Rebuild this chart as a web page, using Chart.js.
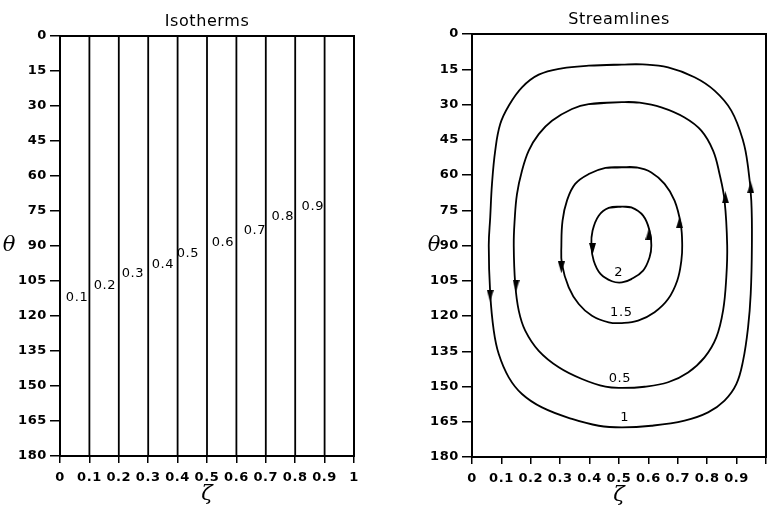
<!DOCTYPE html>
<html>
<head>
<meta charset="utf-8">
<script src="https://cdn.jsdelivr.net/npm/chart.js@4.4.1/dist/chart.umd.min.js"></script>
<style>
  body { margin: 0; background: #fff; width: 768px; height: 508px; overflow: hidden; position: relative; }
  #isoBox { position: absolute; left: 0; top: 0; width: 384px; height: 508px; }
  #strBox { position: absolute; left: 384px; top: 0; width: 410px; height: 508px; }
</style>
</head>
<body>
<div id="isoBox"><canvas id="isoChart"></canvas></div>
<div id="strBox"><canvas id="strChart"></canvas></div>
<script>
// axis ticks
const thetaTicks = [0, 15, 30, 45, 60, 75, 90, 105, 120, 135, 150, 165, 180];
const zetaTicks = [0, 0.1, 0.2, 0.3, 0.4, 0.5, 0.6, 0.7, 0.8, 0.9, 1];

// isotherms
const isoLevels = [0.1, 0.2, 0.3, 0.4, 0.5, 0.6, 0.7, 0.8, 0.9];
const isoLabelZeta = [0.058, 0.153, 0.248, 0.35, 0.435, 0.554, 0.663, 0.758, 0.86];
const isoLabelTheta = [112, 107, 102, 98, 93.4, 88.6, 83.5, 77.5, 73.3];

// streamlines, traced round each loop (top -> left -> bottom -> right)
const line1Zeta = [0.510, 0.397, 0.306, 0.227, 0.170, 0.125, 0.096, 0.079, 0.068, 0.062, 0.057, 0.062, 0.074, 0.091, 0.125, 0.170, 0.238, 0.340, 0.431, 0.510, 0.610, 0.723, 0.803, 0.859, 0.899, 0.922, 0.939, 0.948, 0.952, 0.950, 0.939, 0.922, 0.882, 0.825, 0.757, 0.667, 0.580];
const line1Theta = [13.0, 13.5, 14.6, 17.3, 22.7, 30.5, 38.3, 49.6, 63.8, 78, 90, 110.6, 126.2, 136.2, 146.1, 153.2, 158.9, 163.8, 166.7, 167.4, 166.7, 164.5, 161, 156, 149, 139, 124.8, 110.6, 90, 70.9, 56.7, 45.4, 32.6, 24.1, 18.4, 14.2, 12.9];

const line05Zeta = [0.510, 0.397, 0.340, 0.272, 0.227, 0.193, 0.170, 0.153, 0.145, 0.142, 0.147, 0.159, 0.181, 0.227, 0.295, 0.374, 0.454, 0.510, 0.587, 0.667, 0.735, 0.791, 0.831, 0.854, 0.865, 0.868, 0.859, 0.842, 0.820, 0.780, 0.723, 0.644, 0.570];
const line05Theta = [29.0, 29.8, 31.9, 36.9, 42.6, 49.6, 58.2, 68.1, 79.4, 90, 106.4, 117.7, 126.2, 134.8, 141.8, 146.8, 150.1, 150.6, 150.1, 148.2, 144, 137.6, 129.1, 117.7, 103.5, 90, 70.9, 59.6, 49.6, 41.1, 35.5, 31.2, 29.2];

const line15Zeta = [0.510, 0.454, 0.397, 0.351, 0.323, 0.308, 0.304, 0.306, 0.329, 0.363, 0.408, 0.465, 0.510, 0.565, 0.621, 0.667, 0.698, 0.712, 0.715, 0.710, 0.689, 0.655, 0.610, 0.560];
const line15Theta = [56.7, 57.0, 59.6, 63.8, 70.9, 79.4, 90, 97.9, 107.8, 114.9, 119.9, 122.7, 123, 122, 118.4, 112.8, 105, 96.5, 90, 80.9, 70.9, 63.8, 58.9, 56.8];

const line2Zeta = [0.510, 0.465, 0.431, 0.410, 0.406, 0.414, 0.437, 0.476, 0.510, 0.542, 0.582, 0.604, 0.610, 0.604, 0.582, 0.542];
const line2Theta = [73.5, 74.0, 77.3, 83.7, 90, 96.5, 102.1, 105.2, 105.7, 104.3, 100.7, 95, 90, 83.7, 77.3, 73.8];

const streamLabels = ['1', '0.5', '1.5', '2'];
const streamLabelZeta = [0.519, 0.503, 0.508, 0.499];
const streamLabelTheta = [163.1, 146.8, 118.4, 101.4];

// flow arrows: 0 = up the page, 180 = down
const arrowZeta = [0.062, 0.948, 0.150, 0.862, 0.304, 0.706, 0.410, 0.602];
const arrowTheta = [111.4, 65.2, 107.1, 69.5, 99.3, 80.1, 91.5, 85.1];
const arrowTurn = [180, 0, 180, 0, 180, 0, 180, 0];

const tickFont = { family: 'DejaVu Sans', size: 13, weight: 'bold' };

// elongated arrow head
const arrowHead = document.createElement('canvas');
arrowHead.width = 7;
arrowHead.height = 12;
const ah = arrowHead.getContext('2d');
ah.fillStyle = '#000';
ah.beginPath();
ah.moveTo(3.5, 0);
ah.lineTo(7, 12);
ah.lineTo(0, 12);
ah.closePath();
ah.fill();

// closed loop: wrap one point on each side so the joint stays smooth
function loop(zs, ts) {
  const pts = zs.map((z, i) => ({ x: z, y: ts[i] }));
  return [pts[pts.length - 1], ...pts, pts[0], pts[1]];
}

const paperPlugin = {
  id: 'paper',
  beforeDraw(chart) {
    chart.ctx.letterSpacing = '0.6px';
  },
  afterDatasetsDraw(chart, args, opts) {
    const { ctx, chartArea: a, scales: { x, y } } = chart;
    ctx.save();
    ctx.strokeStyle = '#000';
    ctx.lineWidth = 2;
    ctx.strokeRect(a.left, a.top, a.right - a.left, a.bottom - a.top);
    ctx.fillStyle = '#000';
    ctx.textAlign = 'center';
    ctx.textBaseline = 'middle';
    ctx.font = '13px "DejaVu Sans"';
    opts.labels.forEach((t, i) => {
      ctx.fillText(t, x.getPixelForValue(opts.lz[i]), y.getPixelForValue(opts.lt[i]));
    });
    ctx.letterSpacing = '0px';
    ctx.font = 'italic 21px "DejaVu Serif"';
    ctx.fillText('θ', a.left - opts.thetaGap, y.getPixelForValue(90));
    ctx.fillText('ζ', x.getPixelForValue(0.5), a.bottom + 39);
    ctx.restore();
  }
};

function axes(yWidth, xHeight, hideLast) {
  return {
    x: {
      type: 'linear', min: 0, max: 1,
      afterBuildTicks: s => { s.ticks = zetaTicks.map(v => ({ value: v })); },
      afterFit: s => { s.height = xHeight; },
      ticks: {
        autoSkip: false, maxRotation: 0, padding: 7, color: '#000', font: tickFont,
        callback: v => (hideLast && v === 1) ? '' : String(+v.toFixed(1))
      },
      grid: { drawOnChartArea: false, drawTicks: true, tickLength: 7, color: '#000', lineWidth: 1.5 },
      border: { color: '#000', width: 2 }
    },
    y: {
      type: 'linear', min: 0, max: 180, reverse: true,
      afterBuildTicks: s => { s.ticks = thetaTicks.map(v => ({ value: v })); },
      afterFit: s => { s.width = yWidth; },
      ticks: { autoSkip: false, padding: 3, color: '#000', font: tickFont },
      grid: { drawOnChartArea: false, drawTicks: true, tickLength: 10, color: '#000', lineWidth: 1.5 },
      border: { color: '#000', width: 2 }
    }
  };
}

const isoSets = isoLevels.map(l => ({
  data: [{ x: l, y: 0 }, { x: l, y: 180 }],
  showLine: true, borderColor: '#000', borderWidth: 1.8, pointRadius: 0
}));

new Chart(document.getElementById('isoChart'), {
  type: 'scatter',
  data: { datasets: isoSets },
  options: {
    animation: false,
    responsive: true,
    maintainAspectRatio: false,
    layout: { autoPadding: false, padding: { left: 0, right: 30, top: 0, bottom: 0 } },
    scales: axes(60, 52, false),
    plugins: {
      legend: { display: false },
      tooltip: { enabled: false },
      title: {
        display: true, fullSize: false, text: 'Isotherms', color: '#000',
        font: { family: 'DejaVu Sans', size: 16, weight: 'normal' },
        padding: { top: 12, bottom: 4.8 }
      },
      paper: {
        labels: isoLevels.map(String), lz: isoLabelZeta, lt: isoLabelTheta, thetaGap: 51
      }
    }
  },
  plugins: [paperPlugin]
});

const lineStyle = { showLine: true, borderColor: '#000', borderWidth: 1.8, pointRadius: 0, tension: 0.4 };

new Chart(document.getElementById('strChart'), {
  type: 'scatter',
  data: {
    datasets: [
      { ...lineStyle, data: loop(line1Zeta, line1Theta) },
      { ...lineStyle, data: loop(line05Zeta, line05Theta) },
      { ...lineStyle, data: loop(line15Zeta, line15Theta) },
      { ...lineStyle, data: loop(line2Zeta, line2Theta) },
      {
        data: arrowZeta.map((z, i) => ({ x: z, y: arrowTheta[i] })),
        showLine: false, pointStyle: arrowHead, pointRotation: arrowTurn,
        pointRadius: 6, backgroundColor: '#000', borderWidth: 0
      }
    ]
  },
  options: {
    animation: false,
    responsive: true,
    maintainAspectRatio: false,
    layout: { autoPadding: false, padding: { left: 0, right: 28, top: 0, bottom: 0 } },
    scales: axes(88, 51, true),
    plugins: {
      legend: { display: false },
      tooltip: { enabled: false },
      title: {
        display: true, fullSize: false, text: 'Streamlines', color: '#000',
        font: { family: 'DejaVu Sans', size: 16, weight: 'normal' },
        padding: { top: 10, bottom: 4.8 }
      },
      paper: {
        labels: streamLabels, lz: streamLabelZeta, lt: streamLabelTheta, thetaGap: 38
      }
    }
  },
  plugins: [paperPlugin]
});
</script>
</body>
</html>
